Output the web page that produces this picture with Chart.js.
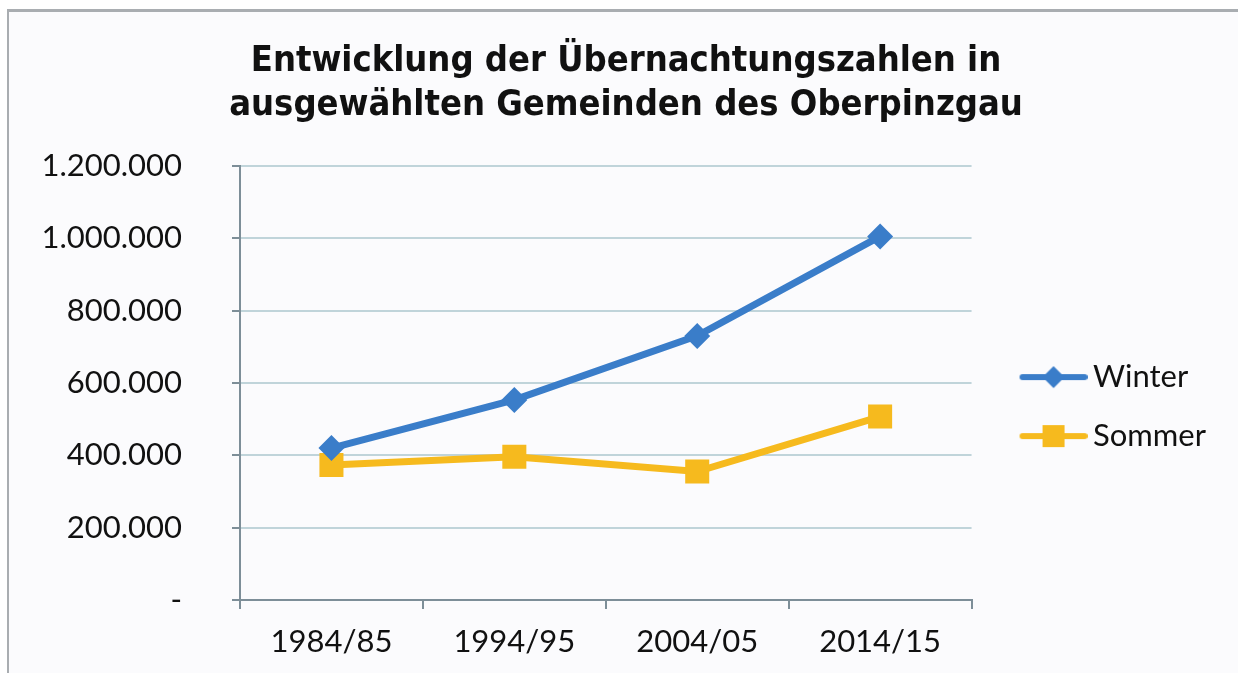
<!DOCTYPE html>
<html>
<head>
<meta charset="utf-8">
<script src="https://cdn.jsdelivr.net/npm/chart.js@4"></script>
<style>
  html, body { margin: 0; padding: 0; background: #ffffff; overflow: hidden; width: 1238px; height: 673px; }
  #frame {
    position: absolute; left: 7px; top: 9px; width: 1229px; height: 661px;
    border-top: 3px solid #a9adb1; border-left: 2px solid #a9adb1;
    background: #fbfbfd;
  }
  #wrap { position: absolute; left: 0; top: 0; width: 1238px; height: 673px; }
</style>
</head>
<body>
<div id="frame"></div>
<div id="wrap"><canvas id="myChart" width="1238" height="673"></canvas></div>
<script>
// chart data

const seasons = ['1984/85', '1994/95', '2004/05', '2014/15'];
const winterValues = [420000, 553000, 730000, 1005000];
const sommerValues = [373000, 396000, 355000, 507000];
const titleLines = [
  'Entwicklung der Übernachtungszahlen in',
  'ausgewählten Gemeinden des Oberpinzgau'
];

const blue = 'rgb(58, 125, 201)';
const gold = 'rgb(246, 186, 30)';

// legend symbol: line with the marker in the middle (like the office chart)
function legendSymbol(color, shape) {
  const c = document.createElement('canvas');
  c.width = 98;
  c.height = 30;
  const ctx = c.getContext('2d');
  ctx.strokeStyle = color;
  ctx.fillStyle = color;
  ctx.lineWidth = 6;
  ctx.lineCap = 'round';
  ctx.beginPath();
  ctx.moveTo(33, 15);
  ctx.lineTo(95, 15);
  ctx.stroke();
  ctx.beginPath();
  if (shape === 'diamond') {
    ctx.moveTo(64, 4);
    ctx.lineTo(75, 15);
    ctx.lineTo(64, 26);
    ctx.lineTo(53, 15);
  } else {
    ctx.rect(53, 4, 22, 22);
  }
  ctx.fill();
  return c;
}

const data = {
  labels: seasons,
  datasets: [
    {
      label: 'Winter',
      data: winterValues,
      borderColor: blue,
      backgroundColor: blue,
      borderWidth: 7,
      pointStyle: 'rectRot',
      pointRadius: 13,
      pointHoverRadius: 13,
      pointBorderWidth: 0,
      legendSymbol: legendSymbol(blue, 'diamond'),
    },
    {
      label: 'Sommer',
      data: sommerValues,
      borderColor: gold,
      backgroundColor: gold,
      borderWidth: 7,
      pointStyle: 'rect',
      pointRadius: 17,
      pointHoverRadius: 17,
      pointBorderWidth: 0,
      legendSymbol: legendSymbol(gold, 'square'),
    },
  ]
};

const axisColor = 'rgb(125, 142, 152)';
const gridColor = 'rgb(192, 212, 218)';

const config = {
  type: 'line',
  data: data,
  options: {
    responsive: false,
    animation: false,
    layout: {
      padding: { left: 36, right: 22, top: 0, bottom: 13 }
    },
    plugins: {
      title: {
        display: true,
        text: titleLines,
        color: '#111111',
        font: { family: '"DejaVu Sans Condensed", sans-serif', size: 36, weight: 'bold', lineHeight: 1.22 },
        padding: { top: 40, bottom: 38 }
      },
      legend: {
        position: 'right',
        fullSize: false,
        title: {
          display: true,
          text: '',
          font: { size: 12, lineHeight: 1.2 },
          padding: { top: 16, bottom: 17 }
        },
        labels: {
          color: '#111111',
          font: { family: 'Lato, sans-serif', size: 31 },
          usePointStyle: true,
          pointStyleWidth: 78,
          padding: 28,
          generateLabels: function(chart) {
            return chart.data.datasets.map(function(ds, i) {
              return {
                text: ds.label,
                pointStyle: ds.legendSymbol,
                fillStyle: ds.backgroundColor,
                strokeStyle: ds.borderColor,
                lineWidth: 0,
                hidden: false,
                datasetIndex: i,
                fontColor: '#111111'
              };
            });
          }
        }
      },
      tooltip: { enabled: false }
    },
    scales: {
      x: {
        offset: true,
        grid: {
          display: true,
          offset: true,
          drawOnChartArea: false,
          drawTicks: true,
          tickLength: 9,
          color: axisColor,
          lineWidth: 2
        },
        border: { color: axisColor, width: 2 },
        ticks: {
          color: '#111111',
          padding: 14,
          font: { family: 'Lato, sans-serif', size: 31 }
        },
        afterFit: function(scale) { scale.height = 60; }
      },
      y: {
        min: 0,
        max: 1200000,
        ticks: {
          stepSize: 200000,
          color: '#111111',
          padding: 50,
          font: { family: 'Lato, sans-serif', size: 31 },
          callback: function(value) {
            if (value === 0) return '-';
            return value.toString().replace(/\B(?=(\d{3})+(?!\d))/g, '.');
          }
        },
        grid: {
          color: gridColor,
          lineWidth: 2,
          drawTicks: true,
          tickLength: 8,
          tickColor: axisColor
        },
        border: { color: axisColor, width: 2 },
        afterFit: function(scale) { scale.width = 204; }
      }
    }
  },
};

// render the chart

var myChart = new Chart(
  document.getElementById('myChart'),
  config
);
</script>
</body>
</html>
